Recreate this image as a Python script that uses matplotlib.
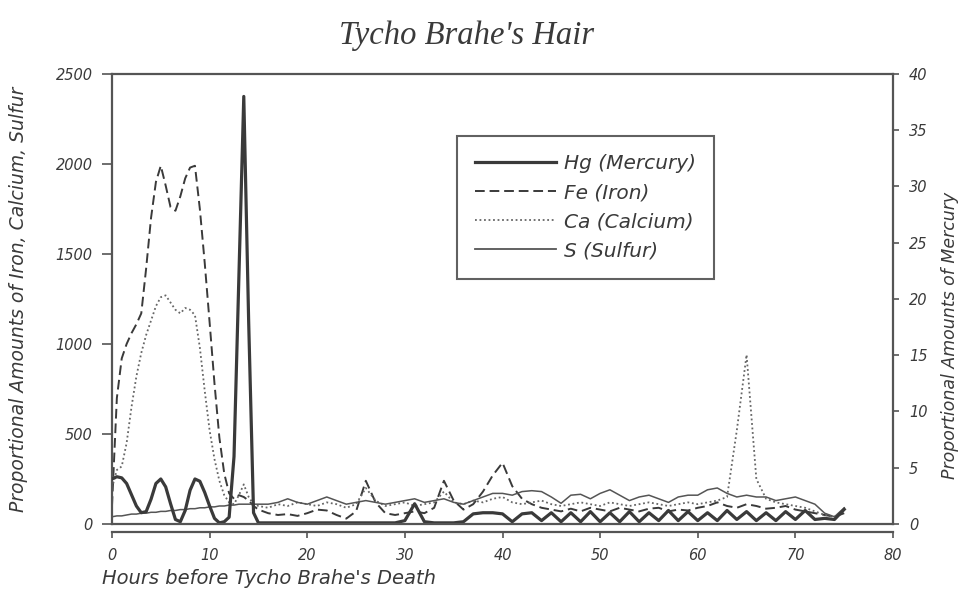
import numpy as np
import matplotlib.pyplot as plt
from matplotlib.lines import Line2D

# -------- DATA --------
hours = [0, 0.5, 1, 1.5, 2, 2.5, 3, 3.5, 4, 4.5,
         5, 5.5, 6, 6.5, 7, 7.5, 8, 8.5, 9, 9.5,
         10, 10.5, 11, 11.5, 12, 12.5, 13, 13.5, 14, 14.5, 15,
         16, 17, 18, 19, 20, 21, 22, 23, 24, 25,
         26, 27, 28, 29, 30, 31, 32, 33, 34, 35,
         36, 37, 38, 39, 40, 41, 42, 43, 44, 45,
         46, 47, 48, 49, 50, 51, 52, 53, 54, 55,
         56, 57, 58, 59, 60, 61, 62, 63, 64, 65,
         66, 67, 68, 69, 70, 71, 72, 73, 74, 75]

# mercury, right axis
mercury = [4.0, 4.2, 4.1, 3.6, 2.6, 1.6, 1.0, 1.1, 2.2, 3.6,
           4.0, 3.3, 1.8, 0.4, 0.2, 1.2, 3.0, 4.0, 3.8, 2.8,
           1.6, 0.5, 0.1, 0.2, 0.6, 6.0, 22.0, 38.0, 18.0, 1.0, 0.1,
           0.1, 0.1, 0.1, 0.1, 0.1, 0.1, 0.1, 0.1, 0.1, 0.1,
           0.1, 0.1, 0.1, 0.1, 0.3, 1.8, 0.2, 0.1, 0.1, 0.1,
           0.2, 0.9, 1.0, 1.0, 0.9, 0.2, 0.9, 1.0, 0.3, 1.0,
           0.2, 1.0, 0.2, 1.1, 0.2, 1.0, 0.2, 1.1, 0.2, 1.0,
           0.3, 1.2, 0.3, 1.1, 0.3, 1.0, 0.3, 1.2, 0.4, 1.1,
           0.3, 1.0, 0.3, 1.1, 0.4, 1.2, 0.4, 0.5, 0.4, 1.3]

iron = [100, 700, 920, 1000, 1060, 1110, 1170, 1420, 1700, 1900,
        1990, 1880, 1760, 1740, 1820, 1920, 1980, 1990, 1750, 1450,
        1120, 780, 480, 280, 170, 140, 160, 150, 130, 100, 80,
        60, 50, 55, 45, 60, 80, 75, 50, 30, 70,
        240, 120, 60, 50, 60, 70, 60, 90, 240, 130,
        80, 110, 180, 270, 340, 210, 140, 110, 90, 80,
        70, 85, 70, 90, 80, 70, 90, 80, 70, 85,
        90, 70, 80, 75, 90, 100, 120, 100, 90, 110,
        100, 85, 90, 100, 80, 70, 60, 50, 40, 60]

calcium = [200, 300, 320, 450, 650, 820, 950, 1050, 1130, 1210,
           1260, 1270, 1230, 1190, 1170, 1200, 1190, 1160, 980, 740,
           520, 360, 240, 160, 120, 110, 160, 220, 150, 110, 100,
           90, 110, 100, 120, 110, 100, 120, 110, 90, 110,
           200, 130, 100, 110, 120, 100, 110, 120, 180, 120,
           110, 130, 120, 140, 150, 120, 110, 120, 130, 110,
           100, 110, 120, 110, 100, 120, 110, 100, 110, 120,
           110, 100, 110, 120, 110, 120, 130, 150, 520, 940,
           250, 140, 120, 110, 100, 90, 70, 50, 40, 80]

sulfur = [40, 45, 45, 50, 55, 55, 60, 60, 65, 65,
          70, 70, 75, 75, 80, 80, 85, 85, 90, 90,
          95, 95, 100, 100, 105, 105, 110, 110, 110, 110, 110,
          110, 120, 140, 120, 110, 130, 150, 130, 110, 120,
          130, 120, 110, 120, 130, 140, 120, 130, 140, 120,
          110, 130, 150, 170, 170, 160, 180, 185, 180, 150,
          115, 160, 165, 140, 170, 190, 160, 130, 150, 160,
          140, 120, 150, 160, 160, 190, 200, 170, 150, 160,
          150, 150, 130, 140, 150, 130, 110, 60, 40, 90]

left_ticks = [0, 500, 1000, 1500, 2000, 2500]
right_ticks = [0, 5, 10, 15, 20, 25, 30, 35, 40]
x_ticks = [0, 10, 20, 30, 40, 50, 60, 70, 80]

labels = ["Hg (Mercury)", "Fe (Iron)", "Ca (Calcium)", "S (Sulfur)"]

# -------- PLOTTING --------
ink = "#3a3a3a"
grey = "#555555"
hand = dict(family="DejaVu Sans", style="oblique", color=ink)

fig = plt.figure(figsize=(9.67, 5.97), dpi=100)
ax = fig.add_axes([0.1158, 0.1223, 0.8077, 0.7538])
ax2 = ax.twinx()

ax.plot(hours, iron, color=ink, lw=1.4, ls=(0, (5, 2.5)))
ax.plot(hours, calcium, color="#666666", lw=1.3, ls=(0, (1, 1.5)))
ax.plot(hours, sulfur, color=grey, lw=1.1)
ax2.plot(hours, mercury, color=ink, lw=2.3)

ax.set_xlim(0, 80)
ax.set_ylim(0, 2500)
ax2.set_ylim(0, 40)

ax.set_xticks(x_ticks)
ax.set_yticks(left_ticks)
ax2.set_yticks(right_ticks)

# spines: box + x axis dropped a little below it
for s in ["left", "top", "bottom"]:
    ax.spines[s].set_color(grey)
    ax.spines[s].set_linewidth(1.6)
ax.spines["right"].set_visible(False)
ax.spines["bottom"].set_position(("outward", 5.8))
for s in ["left", "top"]:
    ax2.spines[s].set_visible(False)
for s in ["right", "bottom"]:
    ax2.spines[s].set_color(grey)
    ax2.spines[s].set_linewidth(1.6)

ax.tick_params(axis="y", direction="out", length=7, width=1.2, color=grey, pad=7)
ax.tick_params(axis="x", direction="out", length=4.5, width=1.2, color=grey, pad=7)
ax2.tick_params(axis="y", direction="out", length=4.5, width=1.2, color=grey, pad=7)

for lab in ax.get_xticklabels() + ax.get_yticklabels() + ax2.get_yticklabels():
    lab.set_fontfamily("DejaVu Sans")
    lab.set_fontstyle("oblique")
    lab.set_fontsize(10.5)
    lab.set_color(ink)

ax.set_ylabel("Proportional Amounts of Iron, Calcium, Sulfur", fontsize=13.5, **hand)
ax.yaxis.set_label_coords(-0.108, 0.5)
ax2.set_ylabel("Proportional Amounts of Mercury", fontsize=12.5, rotation=90, **hand)
ax2.yaxis.set_label_coords(1.062, 0.42)

fig.text(0.105, 1 - 578 / 597, "Hours before Tycho Brahe's Death",
         ha="left", va="center", fontsize=14, **hand)
fig.text(467 / 967, 1 - 36 / 597, "Tycho Brahe's Hair", ha="center", va="center",
         fontsize=23.5, family="Liberation Serif", style="italic", color=ink)

handles = [Line2D([], [], color=ink, lw=2.3),
           Line2D([], [], color=ink, lw=1.4, ls=(0, (5, 2.5))),
           Line2D([], [], color="#666666", lw=1.3, ls=(0, (1, 1.5))),
           Line2D([], [], color=grey, lw=1.3)]
leg = ax2.legend(handles, labels, loc="upper left", bbox_to_anchor=(0.442, 0.862),
                 frameon=True, fancybox=False, handlelength=4.0, handletextpad=0.4,
                 labelspacing=0.5, borderpad=0.9, borderaxespad=0,
                 prop=dict(family="DejaVu Sans", style="oblique", size=14.5))
leg.get_frame().set_edgecolor(ink)
leg.get_frame().set_linewidth(1.5)
for t in leg.get_texts():
    t.set_color(ink)

fig.savefig("out.png", dpi=100)
